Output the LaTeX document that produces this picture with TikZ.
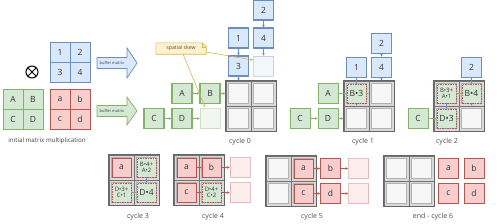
\documentclass[tikz,border=0pt]{standalone}
\usepackage{fontspec}
\setmainfont{Open Sans}
\usetikzlibrary{arrows.meta,backgrounds}
\definecolor{grnL}{HTML}{D5E8D4}
\definecolor{grnD}{HTML}{82B366}
\definecolor{bluL}{HTML}{DAE8FC}
\definecolor{bluD}{HTML}{6C8EBF}
\definecolor{redL}{HTML}{F8CECC}
\definecolor{redD}{HTML}{B85450}
\definecolor{yelL}{HTML}{FFF2CC}
\definecolor{yelD}{HTML}{D6B656}
\tikzset{
 cellbase/.style={inner sep=0pt, minimum size=20pt, line width=0.8pt, font=\fontsize{8.5}{9}\selectfont, text=black!80},
 gbox/.style={cellbase, draw=grnD, fill=grnL},
 bbox/.style={cellbase, draw=bluD, fill=bluL},
 rbox/.style={cellbase, draw=redD, fill=redL},
 thk/.style={line width=1.3pt},
 fnt/.style={opacity=0.35},
 mixbox/.style={cellbase, minimum size=19pt, draw=redD, dash pattern=on 1.5pt off 1pt, fill=grnL, align=center},
 tiny/.style={font=\fontsize{6}{6.5}\selectfont},
 gcell/.style={draw=black!55, fill=black!15, minimum size=25pt, inner sep=0pt, line width=0.6pt,
   path picture={\draw[fill=black!3, draw=black!30, line width=0.5pt]
     ([shift={(2.5pt,2.5pt)}]path picture bounding box.south west) rectangle
     ([shift={(-2.5pt,-2.5pt)}]path picture bounding box.north east);}},
 gframe/.style={draw=black!60, line width=1.2pt},
 tip/.style={-{Stealth[length=2.6pt,width=2.6pt]}, line width=0.6pt},
 garr/.style={tip, draw=grnD},
 barr/.style={tip, draw=bluD},
 rarr/.style={tip, draw=redD},
 yarr/.style={tip, draw=yelD},
 lbl/.style={font=\fontsize{7}{8}\selectfont, text=black!70},
}
\newcommand{\gmat}[3]{%
 \node[gcell] (#1-11) at ({#2+12.5},{#3+12.5}) {};
 \node[gcell] (#1-12) at ({#2+37.5},{#3+12.5}) {};
 \node[gcell] (#1-21) at ({#2+12.5},{#3+37.5}) {};
 \node[gcell] (#1-22) at ({#2+37.5},{#3+37.5}) {};
 \draw[gframe] (#1-11.north west) rectangle (#1-22.south east);
}
\begin{document}
\begin{tikzpicture}[x=1pt,y=-1pt]
\useasboundingbox (0,0) rectangle (500,223);

% ---------- initial ----------
\node[gbox] (iA) at (13,99) {A};
\node[gbox] (iB) at (33,99) {B};
\node[gbox] (iC) at (13,119) {C};
\node[gbox] (iD) at (33,119) {D};
\node[rbox] (ia) at (60,99) {a};
\node[rbox] (ib) at (80,99) {b};
\node[rbox] (ic) at (60,119) {c};
\node[rbox] (id) at (80,119) {d};
\node[bbox] (i1) at (60,52) {1};
\node[bbox] (i2) at (80,52) {2};
\node[bbox] (i3) at (60,72) {3};
\node[bbox] (i4) at (80,72) {4};
\node[circle, draw=black, line width=1pt, minimum size=12pt, inner sep=0pt,
  path picture={\draw[line width=1pt] (path picture bounding box.south west) -- (path picture bounding box.north east);
                \draw[line width=1pt] (path picture bounding box.north west) -- (path picture bounding box.south east);}] (ot) at (32,72) {};
\node[font=\fontsize{6.2}{7}\selectfont, text=black!75] (initlbl) at (47,141) {initial matrix multiplication};

% buffer arrows
\draw[draw=bluD, fill=bluL, line width=0.7pt] (97,57.5) -- (127,57.5) -- (127,48) -- (137,63) -- (127,78) -- (127,68.5) -- (97,68.5) -- cycle;
\node[font=\fontsize{4}{4.5}\selectfont, text=black!75] (bufb) at (112,63) {buffer matrix};
\draw[draw=grnD, fill=grnL, line width=0.7pt] (97,105.5) -- (127,105.5) -- (127,97) -- (137,111) -- (127,125) -- (127,116.5) -- (97,116.5) -- cycle;
\node[font=\fontsize{4}{4.5}\selectfont, text=black!75] (bufg) at (112,111) {buffer matrix};

% ---------- cycle 0 ----------
\gmat{m0}{226}{81}
\node[bbox,thk] (b02) at (263.5,10) {2};
\node[bbox,thk] (b01) at (238.5,38) {1};
\node[bbox,thk] (b04) at (263.5,38) {4};
\node[bbox,thk] (b03) at (238.5,66) {3};
\node[bbox,fnt] (bf0) at (263.5,66) {};
\node[gbox,thk] (g0A) at (182,93.5) {A};
\node[gbox,thk] (g0B) at (210,93.5) {B};
\node[gbox,thk] (g0C) at (154,118.5) {C};
\node[gbox,thk] (g0D) at (182,118.5) {D};
\node[gbox,fnt] (gf0) at (210,118.5) {};
\draw[garr] (g0A) -- (g0B);
\draw[garr] (g0B) -- (m0-11);
\draw[garr] (g0C) -- (g0D);
\draw[garr] (g0D) -- (gf0);
\draw[barr] (b02) -- (b04);
\draw[barr] (b01) -- (b03);
\draw[barr] (b04) -- (bf0);
\draw[barr] (b03) -- (m0-11);
\node[font=\fontsize{5.2}{6}\selectfont, text=black!70, minimum width=50pt, minimum height=11pt, inner sep=0pt] (skew) at (181,48.5) {spatial skew};
\begin{scope}[on background layer]
\draw[draw=yelD, fill=yelL, line width=0.6pt] (skew.south west) -- (skew.north west) -- ([xshift=-4pt]skew.north east) -- ([yshift=-4pt]skew.north east) -- (skew.south east) -- cycle;
\draw[draw=yelD, line width=0.6pt] ([xshift=-4pt]skew.north east) -- ([xshift=-4pt,yshift=-4pt]skew.north east) -- ([yshift=-4pt]skew.north east);
\end{scope}
\draw[yarr] ([xshift=2pt]skew.south) -- ([xshift=5.5pt,yshift=1pt]gf0.north west);
\draw[yarr] ([yshift=-3.5pt]skew.east) -- ([yshift=6pt]bf0.west);
\node[lbl] (l0) at (240,142) {cycle 0};

% ---------- cycle 1 ----------
\gmat{m1}{344}{81}
\node[bbox] (b12) at (381.5,43) {2};
\node[bbox] (b11) at (356.5,67) {1};
\node[bbox] (b14) at (381.5,67) {4};
\node[gbox] (g1A) at (328,93.5) {A};
\node[gbox] (g1C) at (300,118.5) {C};
\node[gbox] (g1D) at (328,118.5) {D};
\node[mixbox] (x1a) at (m1-11) {B•3};
\draw[barr] (b12) -- (b14);
\draw[barr] (b11) -- (x1a);
\draw[barr] (b14) -- (m1-12);
\draw[barr] (x1a) -- (m1-21);
\draw[garr] (g1A) -- (x1a);
\draw[garr] (x1a) -- (m1-12);
\draw[garr] (g1C) -- (g1D);
\draw[garr] (g1D) -- (m1-21);
\node[lbl] (l1) at (363,142) {cycle 1};

% ---------- cycle 2 ----------
\gmat{m2}{434}{81}
\node[bbox] (b22) at (471.5,67) {2};
\node[gbox] (g2C) at (418,118.5) {C};
\node[mixbox, tiny] (x2a) at (m2-11) {B•3+\\A•1};
\node[mixbox] (x2b) at (m2-12) {B•4};
\node[mixbox] (x2c) at (m2-21) {D•3};
\draw[barr] (b22) -- (x2b);
\draw[garr] (x2a) -- (x2b);
\draw[barr] (x2a) -- (x2c);
\draw[barr] (x2b) -- (m2-22);
\draw[garr] (g2C) -- (x2c);
\draw[garr] (x2c) -- (m2-22);
\node[lbl] (l2) at (447,142) {cycle 2};

% ---------- cycle 3 ----------
\gmat{m3}{109}{155}
\node[rbox, minimum size=19pt] (r3a) at (m3-11) {a};
\node[mixbox, tiny] (x3b) at (m3-12) {B•4+\\A•2};
\node[mixbox, tiny] (x3c) at (m3-21) {D•3+\\C•1};
\node[mixbox] (x3d) at (m3-22) {D•4};
\draw[barr] (x3b) -- (x3d);
\draw[garr] (x3c) -- (x3d);
\node[lbl] (l3) at (138,217) {cycle 3};

% ---------- cycle 4 ----------
\gmat{m4}{174}{155}
\node[rbox, minimum size=19pt] (r4a) at (m4-11) {a};
\node[rbox, minimum size=19pt] (r4b) at (m4-12) {b};
\node[rbox, minimum size=19pt] (r4c) at (m4-21) {c};
\node[mixbox, tiny] (x4d) at (m4-22) {D•4+\\C•2};
\node[rbox,fnt] (f4a) at (240,167.5) {};
\node[rbox,fnt] (f4b) at (240,192.5) {};
\draw[rarr] (r4a) -- (r4b);
\draw[rarr] (r4b) -- (f4a);
\draw[rarr] (r4c) -- (x4d);
\draw[rarr] (x4d) -- (f4b);
\node[lbl] (l4) at (213,217) {cycle 4};

% ---------- cycle 5 ----------
\gmat{m5}{266}{156}
\node[rbox, minimum size=19pt] (r5a) at (m5-12) {a};
\node[rbox, minimum size=19pt] (r5c) at (m5-22) {c};
\node[rbox] (r5b) at (330.5,168.5) {b};
\node[rbox] (r5d) at (330.5,193.5) {d};
\node[rbox,fnt] (f5a) at (358.5,168.5) {};
\node[rbox,fnt] (f5b) at (358.5,193.5) {};
\draw[rarr] (r5a) -- (r5b);
\draw[rarr] (r5b) -- (f5a);
\draw[rarr] (r5c) -- (r5d);
\draw[rarr] (r5d) -- (f5b);
\node[lbl] (l5) at (312,217) {cycle 5};

% ---------- end ----------
\gmat{m6}{384}{156}
\node[rbox] (r6a) at (448.5,168.5) {a};
\node[rbox] (r6b) at (474,168.5) {b};
\node[rbox] (r6c) at (448.5,193.5) {c};
\node[rbox] (r6d) at (474,193.5) {d};
\node[lbl] (l6) at (433,217) {end - cycle 6};
\end{tikzpicture}
\end{document}
